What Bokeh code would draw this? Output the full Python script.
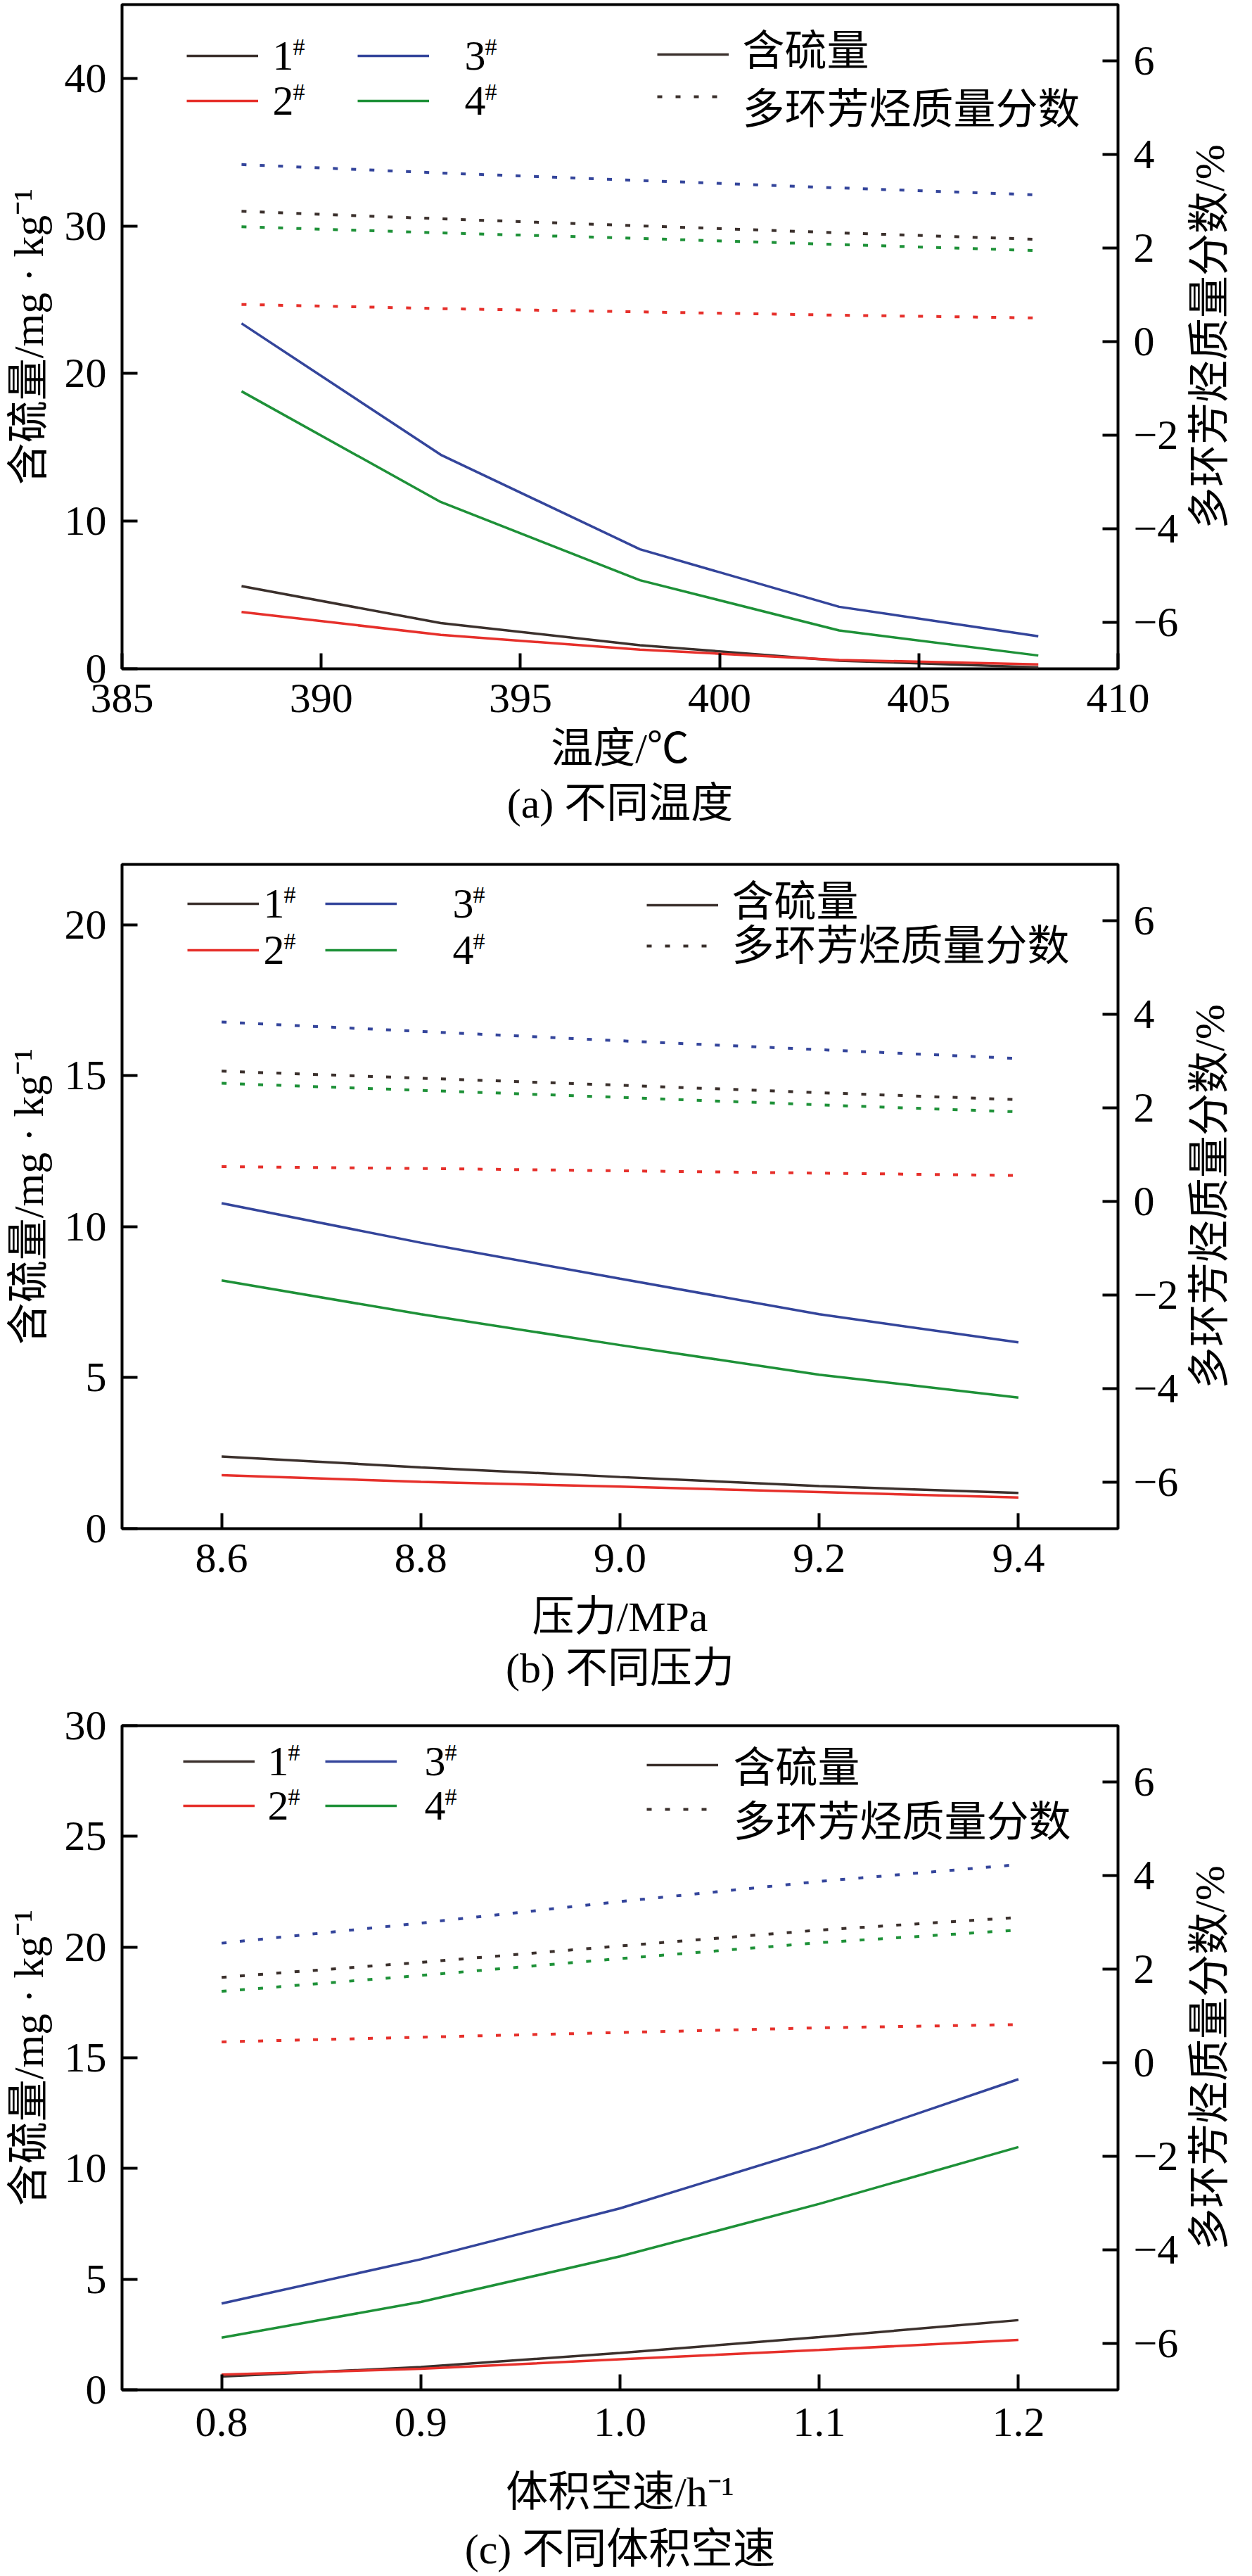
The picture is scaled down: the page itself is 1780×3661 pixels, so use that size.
import math
from bokeh.plotting import figure
from bokeh.models import (Range1d, LinearAxis, FixedTicker, Legend, LegendItem,
                          Label, Title, NumeralTickFormatter)
from bokeh.layouts import column, row
from bokeh.embed import file_html
from bokeh.resources import INLINE

FONT = "'Liberation Serif', 'Noto Sans CJK SC'"

SAMPLES = ["1", "2", "3", "4"]
COLORS = ["#3b302c", "#e6302b", "#34459b", "#1e9138"]

# (a) temperature
temp_x = [388, 393, 398, 403, 408]
temp_s1 = [5.6, 3.1, 1.6, 0.55, 0.1]
temp_s2 = [3.85, 2.3, 1.3, 0.6, 0.3]
temp_s3 = [23.4, 14.5, 8.1, 4.2, 2.2]
temp_s4 = [18.8, 11.3, 6.0, 2.6, 0.9]
temp_p1 = [2.78, 2.62, 2.47, 2.32, 2.18]
temp_p2 = [0.79, 0.70, 0.63, 0.56, 0.50]
temp_p3 = [3.78, 3.60, 3.44, 3.28, 3.13]
temp_p4 = [2.45, 2.32, 2.20, 2.07, 1.94]

# (b) pressure
press_x = [8.6, 8.8, 9.0, 9.2, 9.4]
press_s1 = [2.39, 2.03, 1.71, 1.41, 1.18]
press_s2 = [1.77, 1.55, 1.39, 1.21, 1.03]
press_s3 = [10.78, 9.47, 8.28, 7.10, 6.17]
press_s4 = [8.22, 7.10, 6.08, 5.10, 4.34]
press_p1 = [2.78, 2.63, 2.48, 2.32, 2.17]
press_p2 = [0.74, 0.70, 0.65, 0.60, 0.55]
press_p3 = [3.83, 3.63, 3.43, 3.24, 3.05]
press_p4 = [2.52, 2.37, 2.22, 2.06, 1.91]

# (c) liquid hourly space velocity
lhsv_x = [0.8, 0.9, 1.0, 1.1, 1.2]
lhsv_s1 = [0.60, 1.03, 1.67, 2.38, 3.15]
lhsv_s2 = [0.69, 0.95, 1.38, 1.80, 2.26]
lhsv_s3 = [3.90, 5.90, 8.20, 10.97, 14.03]
lhsv_s4 = [2.36, 3.97, 6.03, 8.40, 10.97]
lhsv_p1 = [1.82, 2.14, 2.49, 2.83, 3.10]
lhsv_p2 = [0.44, 0.54, 0.64, 0.74, 0.81]
lhsv_p3 = [2.55, 2.98, 3.44, 3.87, 4.23]
lhsv_p4 = [1.52, 1.86, 2.22, 2.56, 2.83]

temp_xticks = [385, 390, 395, 400, 405, 410]
press_xticks = [8.6, 8.8, 9.0, 9.2, 9.4]
lhsv_xticks = [0.8, 0.9, 1.0, 1.1, 1.2]
temp_yticks = [0, 10, 20, 30, 40]
press_yticks = [0, 5, 10, 15, 20]
lhsv_yticks = [0, 5, 10, 15, 20, 25, 30]
pah_ticks = [-6, -4, -2, 0, 2, 4, 6]

Y_LEFT_TITLE = "含硫量/mg · kg⁻¹"
Y_RIGHT_TITLE = "多环芳烃质量分数/%"
LEG_SULFUR = "含硫量"
LEG_PAH = "多环芳烃质量分数"

FRAME_W = 1416
FRAME_H = 944
GLYPH_W = 102
GLYPH_H = 40
BORDER_L = 173
BORDER_R = 98
SIDE_W = 70
RIGHT_TITLE_LEN = 547  # approximate drawn length of the right-hand title, px


def style_axis(ax, ticks, fmt=None):
    ax.ticker = FixedTicker(ticks=ticks)
    ax.major_tick_in = 22
    ax.major_tick_out = 0
    ax.major_tick_line_width = 4
    ax.major_tick_line_color = "black"
    ax.minor_tick_line_color = None
    ax.axis_line_color = None
    ax.major_label_text_font = FONT
    ax.major_label_text_font_size = "60px"
    ax.major_label_text_color = "black"
    ax.axis_label_text_font = FONT
    ax.axis_label_text_font_size = "60px"
    ax.axis_label_text_font_style = "normal"
    ax.axis_label_text_color = "black"
    if fmt is not None:
        ax.formatter = fmt


def text_label(p, x, y_from_top, text, size="60px", align="left"):
    p.add_layout(Label(x=x, y=FRAME_H - y_from_top, x_units="screen", y_units="screen",
                       text=text, text_font=FONT, text_font_size=size,
                       text_baseline="middle", text_align=align, text_color="black"))


def glyph_legend(p, renderers, vx, r1, d):
    # legend of line samples only; its texts are drawn as labels
    spacing = d - GLYPH_H
    legend_h = 2 * GLYPH_H + spacing
    vy = FRAME_H - (r1 - GLYPH_H / 2) - legend_h
    lg = Legend(items=[LegendItem(label="", renderers=[r]) for r in renderers],
                location=(vx, vy), orientation="vertical",
                padding=0, margin=0, spacing=spacing,
                glyph_width=GLYPH_W, glyph_height=GLYPH_H, label_height=GLYPH_H,
                label_standoff=0, label_width=0,
                label_text_font_size="1px",
                border_line_color=None, background_fill_alpha=0)
    p.add_layout(lg)


def make_panel(xs, sulf, pah, xr, ymax, xticks, yticks, xfmt, xtitle, caption,
               top, bottom, offs, leg):
    p = figure(frame_width=FRAME_W, frame_height=FRAME_H,
               output_backend="svg", toolbar_location=None,
               x_range=Range1d(*xr), y_range=Range1d(0, ymax),
               min_border_left=BORDER_L, min_border_right=BORDER_R,
               min_border_top=top, min_border_bottom=bottom)
    p.extra_y_ranges = {"pah": Range1d(-7, 7.2)}
    p.xgrid.visible = False
    p.ygrid.visible = False
    p.outline_line_color = "black"
    p.outline_line_width = 4
    p.background_fill_color = "white"
    p.border_fill_color = "white"

    tick_so, title_so, cap_so = offs
    style_axis(p.xaxis[0], xticks, xfmt)
    p.xaxis[0].axis_label = xtitle
    p.xaxis[0].major_label_standoff = tick_so
    p.xaxis[0].axis_label_standoff = title_so

    style_axis(p.yaxis[0], yticks)
    p.yaxis[0].axis_label = Y_LEFT_TITLE
    p.yaxis[0].major_label_standoff = 22
    p.yaxis[0].axis_label_standoff = 15

    ax_r = LinearAxis(y_range_name="pah")
    style_axis(ax_r, pah_ticks)
    ax_r.major_label_overrides = {t: ("\u2212" + str(-t) if t < 0 else str(t)) for t in pah_ticks}
    ax_r.major_label_standoff = 22
    p.add_layout(ax_r, "right")

    s_rend = []
    p_rend = []
    for s_vals, p_vals, c in zip(sulf, pah, COLORS):
        r1 = p.line(xs, s_vals, line_color=c, line_width=3.5)
        r2 = p.line(xs, p_vals, line_color=c, line_width=4, line_dash="7 19",
                    y_range_name="pah")
        s_rend.append(r1)
        p_rend.append(r2)

    cap = Title(text=caption, align="center", text_font=FONT, text_font_size="60px",
                text_font_style="normal", text_color="black", standoff=cap_so)
    p.add_layout(cap, "below")

    # sample legends (two columns) with superscript '#'
    for (i0, i1), (vx, r1, d, tx) in zip([(0, 1), (2, 3)], leg["cols"]):
        glyph_legend(p, [s_rend[i0], s_rend[i1]], vx, r1, d)
        for i, rc in zip((i0, i1), (r1, r1 + d)):
            text_label(p, tx, rc, SAMPLES[i])
            text_label(p, tx + 29, rc - 13, "#", size="34px")
    # line-style legend
    vx, r1, d, tx, t1, t2 = leg["kind"]
    glyph_legend(p, [s_rend[0], p_rend[0]], vx, r1, d)
    text_label(p, tx, t1, LEG_SULFUR)
    text_label(p, tx, t2, LEG_PAH)

    # right-hand axis title, reading from bottom to top, in a narrow strip whose
    # frame is aligned with the plot frame
    side = figure(frame_width=SIDE_W, frame_height=FRAME_H, output_backend="svg",
                  toolbar_location=None, x_axis_type=None, y_axis_type=None,
                  min_border_left=0, min_border_right=0,
                  min_border_top=top, min_border_bottom=bottom)
    side.outline_line_color = None
    side.xgrid.visible = False
    side.ygrid.visible = False
    side.add_layout(Label(x=32, y=FRAME_H / 2 - RIGHT_TITLE_LEN / 2,
                          x_units="screen", y_units="screen",
                          text=Y_RIGHT_TITLE, angle=math.pi / 2, text_font=FONT,
                          text_font_size="60px", text_align="left",
                          text_baseline="middle", text_color="black"))
    return row(p, side, spacing=0)


pa = make_panel(temp_x, [temp_s1, temp_s2, temp_s3, temp_s4],
                [temp_p1, temp_p2, temp_p3, temp_p4],
                (385, 410), 45, temp_xticks, temp_yticks, NumeralTickFormatter(format="0"),
                "温度/℃", "(a) 不同温度", 6, 250, (22, 16, 14),
                {"cols": [(92, 73, 64, 214), (335, 73, 64, 487)],
                 "kind": (761, 71, 60, 882, 66, 149)})
pb = make_panel(press_x, [press_s1, press_s2, press_s3, press_s4],
                [press_p1, press_p2, press_p3, press_p4],
                (8.5, 9.5), 22, press_xticks, press_yticks, NumeralTickFormatter(format="0.0"),
                "压力/MPa", "(b) 不同压力", 28, 248, (22, 28, 4),
                {"cols": [(93, 56, 66, 201), (289, 56, 66, 470)],
                 "kind": (746, 58, 58, 867, 53, 116)})
pc = make_panel(lhsv_x, [lhsv_s1, lhsv_s2, lhsv_s3, lhsv_s4],
                [lhsv_p1, lhsv_p2, lhsv_p3, lhsv_p4],
                (0.75, 1.25), 30, lhsv_xticks, lhsv_yticks, NumeralTickFormatter(format="0.0"),
                "体积空速/h⁻¹", "(c) 不同体积空速", 32, 248, (26, 44, 20),
                {"cols": [(87, 51, 63, 207), (289, 51, 63, 430)],
                 "kind": (746, 56, 63, 869, 60, 137)})

layout = column(pa, pb, pc, spacing=0)
open("out.html", "w").write(file_html(layout, INLINE))
